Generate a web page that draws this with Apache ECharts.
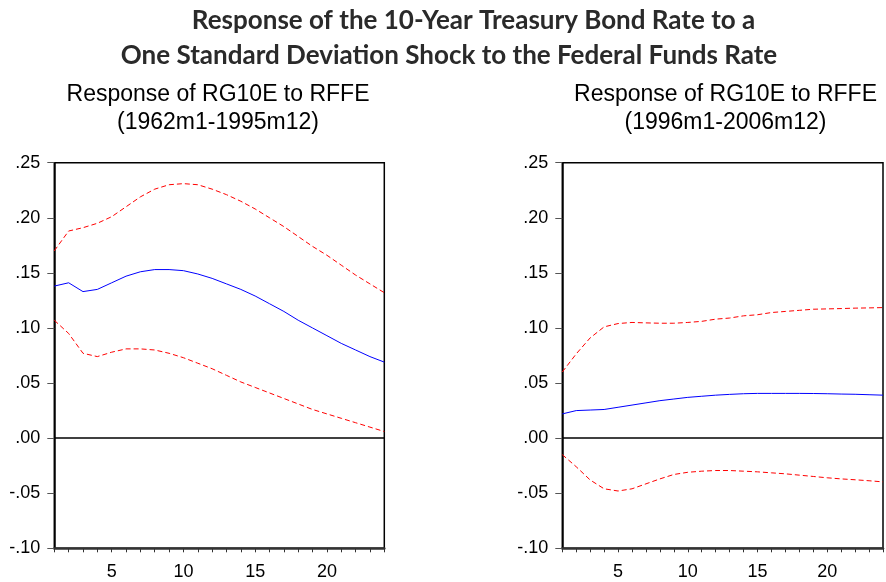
<!DOCTYPE html>
<html>
<head>
<meta charset="utf-8">
<script src="https://cdn.jsdelivr.net/npm/echarts@6/dist/echarts.min.js"></script>
<style>
html,body{margin:0;padding:0;background:#fff;}
#chart{width:886px;height:582px;}
</style>
</head>
<body>
<div id="chart"></div>
<script>
// ---- data ----
const periods = [1,2,3,4,5,6,7,8,9,10,11,12,13,14,15,16,17,18,19,20,21,22,23,24];
const xTickLabels = [5, 10, 15, 20];
const yTickLabels = ['-.10', '-.05', '.00', '.05', '.10', '.15', '.20', '.25'];

const titleLines = ['Response of the 10-Year Treasury Bond Rate to a',
                    'One Standard Deviation Shock to the Federal Funds Rate'];
const leftSubtitle = ['Response of RG10E to RFFE', '(1962m1-1995m12)'];
const rightSubtitle = ['Response of RG10E to RFFE', '(1996m1-2006m12)'];

const leftResponse = [0.138, 0.141, 0.133, 0.135, 0.141, 0.147, 0.151, 0.153, 0.153, 0.152, 0.149, 0.145,
                      0.140, 0.135, 0.129, 0.122, 0.115, 0.107, 0.100, 0.093, 0.086, 0.080, 0.074, 0.069];
const leftUpper    = [0.170, 0.188, 0.191, 0.195, 0.201, 0.210, 0.219, 0.226, 0.230, 0.231, 0.230, 0.226,
                      0.221, 0.215, 0.208, 0.200, 0.192, 0.183, 0.174, 0.166, 0.157, 0.148, 0.140, 0.132];
const leftLower    = [0.107, 0.095, 0.077, 0.074, 0.078, 0.081, 0.081, 0.080, 0.077, 0.073, 0.068, 0.063,
                      0.057, 0.051, 0.046, 0.041, 0.036, 0.031, 0.026, 0.022, 0.018, 0.014, 0.010, 0.006];

const rightResponse = [0.022, 0.025, 0.0255, 0.026, 0.028, 0.030, 0.032, 0.034, 0.0355, 0.037, 0.038, 0.039,
                       0.0397, 0.0403, 0.0406, 0.0406, 0.0406, 0.0406, 0.0405, 0.0403, 0.0400, 0.0398, 0.0394, 0.0390];
const rightUpper    = [0.060, 0.0765, 0.091, 0.101, 0.104, 0.105, 0.1046, 0.1043, 0.1043, 0.105, 0.106, 0.108,
                       0.109, 0.111, 0.112, 0.114, 0.115, 0.116, 0.117, 0.1173, 0.1176, 0.118, 0.1182, 0.1185];
const rightLower    = [-0.015, -0.026, -0.038, -0.046, -0.048, -0.046, -0.0415, -0.037, -0.033, -0.031, -0.030, -0.0294,
                       -0.0294, -0.030, -0.0306, -0.0315, -0.0324, -0.0336, -0.0348, -0.036, -0.037, -0.0378, -0.0387, -0.0397];

// ---- chart ----
const pairs = arr => periods.map((p, i) => [p, arr[i]]);
const axisFont = 'Liberation Sans, Arial, sans-serif';

function xAxisFor(gi) {
  return {
    type: 'value', gridIndex: gi, min: 1, max: 24, interval: 1,
    axisLine: { show: true, onZero: false, lineStyle: { color: '#333', width: 2.5 } },
    axisTick: { show: true, length: 4, lineStyle: { color: '#333', width: 1 } },
    splitLine: { show: false },
    axisLabel: {
      margin: 15, fontSize: 18, fontFamily: axisFont, color: '#000',
      formatter: v => (xTickLabels.indexOf(v) >= 0 ? String(v) : '')
    }
  };
}
function yAxisFor(gi) {
  return {
    type: 'value', gridIndex: gi, min: -0.10, max: 0.25, interval: 0.05,
    axisLine: { show: true, onZero: false, lineStyle: { color: '#000', width: 1.5 } },
    axisTick: { show: true, length: 7, lineStyle: { color: '#555', width: 1 } },
    splitLine: { show: false },
    axisLabel: {
      margin: 14, fontSize: 18, fontFamily: axisFont, color: '#000',
      formatter: v => yTickLabels[Math.round((v + 0.10) / 0.05)]
    }
  };
}
const zeroLine = {
  silent: true, symbol: 'none', animation: false,
  label: { show: false },
  lineStyle: { color: '#000', width: 1.5, type: 'solid' },
  data: [{ yAxis: 0 }]
};
function lineSeries(gi, data, color, dashed, withZero) {
  const s = {
    type: 'line', xAxisIndex: gi, yAxisIndex: gi, data: pairs(data),
    showSymbol: false, symbol: 'none', smooth: false,
    lineStyle: { color: color, width: 1, type: dashed ? [5, 3] : 'solid' },
    z: 3
  };
  if (withZero) s.markLine = zeroLine;
  return s;
}

function textEl(txt, x, y, font, fill) {
  return { type: 'text', x: x, y: y,
    style: { text: txt, font: font, fill: fill, textAlign: 'center', textVerticalAlign: 'middle',
             align: 'center', verticalAlign: 'middle' } };
}
const titleFont = 'bold 26px Lato, "Open Sans", sans-serif';
const subFont = '23px "Liberation Sans", Arial, sans-serif';

const chart = echarts.init(document.getElementById('chart'), null, { renderer: 'canvas' });
chart.setOption({
  animation: false,
  backgroundColor: '#fff',
  grid: [
    { left: 54.3, top: 162.7, width: 330, bottom: 33.7, show: true, borderColor: '#000', borderWidth: 1.5, backgroundColor: 'transparent' },
    { left: 562.3, top: 162.7, width: 325.5, bottom: 33.7, show: true, borderColor: '#000', borderWidth: 1.5, backgroundColor: 'transparent' }
  ],
  xAxis: [xAxisFor(0), xAxisFor(1)],
  yAxis: [yAxisFor(0), yAxisFor(1)],
  series: [
    lineSeries(0, leftResponse, '#0000ff', false, true),
    lineSeries(0, leftUpper, '#ff0000', true, false),
    lineSeries(0, leftLower, '#ff0000', true, false),
    lineSeries(1, rightResponse, '#0000ff', false, true),
    lineSeries(1, rightUpper, '#ff0000', true, false),
    lineSeries(1, rightLower, '#ff0000', true, false)
  ],
  graphic: [
    textEl(titleLines[0], 473.5, 21, titleFont, '#2a2a2a'),
    textEl(titleLines[1], 449, 56, titleFont, '#2a2a2a'),
    textEl(leftSubtitle[0], 218, 95, subFont, '#000'),
    textEl(leftSubtitle[1], 218, 123, subFont, '#000'),
    textEl(rightSubtitle[0], 725.5, 95, subFont, '#000'),
    textEl(rightSubtitle[1], 725.5, 123, subFont, '#000')
  ]
});
</script>
</body>
</html>
